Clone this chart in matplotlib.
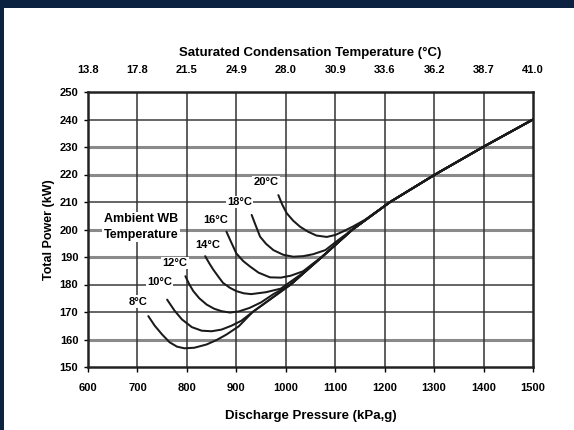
import numpy as np
import matplotlib
matplotlib.use("Agg")
import matplotlib.pyplot as plt
from matplotlib.patches import Rectangle

plt.rcParams['font.family'] = ['Liberation Sans', 'DejaVu Sans']
plt.rcParams['font.weight'] = 'bold'

# discharge pressure ticks and matching saturated condensation temperatures
pressure_ticks = [600, 700, 800, 900, 1000, 1100, 1200, 1300, 1400, 1500]
sat_temp_labels = ["13.8", "17.8", "21.5", "24.9", "28.0", "30.9", "33.6", "36.2", "38.7", "41.0"]
power_ticks = [150, 160, 170, 180, 190, 200, 210, 220, 230, 240, 250]

# common high-pressure line that all curves settle on
line_p = [933, 1010, 1073, 1135, 1211, 1302, 1399, 1500]
line_kw = [170, 180, 190, 200, 210, 220, 230, 240]

# head of each wet-bulb curve before it joins the common line
wb_labels = ["8°C", "10°C", "12°C", "14°C", "16°C", "18°C", "20°C"]
wb_p = [
    [722, 735, 750, 765, 780, 795, 815, 840, 860, 880, 905],
    [760, 775, 790, 810, 830, 850, 870, 890, 910],
    [797, 805, 813, 825, 840, 855, 870, 887, 905, 927, 950, 975],
    [837, 845, 853, 863, 873, 887, 900, 915, 930, 960, 990, 1030],
    [880, 888, 900, 914, 928, 945, 968, 990, 1010, 1035, 1055],
    [931, 938, 948, 960, 975, 995, 1015, 1035, 1055, 1080, 1105],
    [985, 993, 1002, 1015, 1029, 1045, 1062, 1083, 1100, 1116, 1135, 1160],
]
wb_kw = [
    [168.5, 165.0, 161.8, 159.0, 157.4, 156.8, 157.0, 158.2, 159.8, 161.8, 164.8],
    [174.5, 170.5, 167.3, 164.5, 163.2, 163.0, 163.6, 165.0, 166.8],
    [183.0, 180.0, 177.6, 175.0, 172.7, 171.2, 170.3, 169.8, 170.2, 171.5, 173.5, 176.5],
    [190.3, 187.8, 185.5, 183.0, 180.6, 178.8, 177.6, 176.8, 176.5, 177.2, 178.5, 183.6],
    [199.2, 196.0, 191.3, 188.5, 186.5, 184.3, 182.6, 182.5, 183.2, 184.8, 187.6],
    [205.3, 202.0, 197.4, 194.8, 192.5, 190.8, 190.1, 190.3, 191.0, 192.5, 196.0],
    [212.5, 209.0, 205.9, 203.2, 201.0, 199.2, 197.8, 197.3, 198.0, 199.3, 201.0, 203.5],
]
# where each label sits (pressure, power)
wb_label_pos = [(702, 173.8), (744, 181.0), (776, 187.9), (843, 194.3),
                (858, 203.5), (906, 210.1), (960, 217.4)]

fig = plt.figure(figsize=(5.74, 4.30), dpi=100)
fig.patch.set_facecolor('white')
# navy frame along the top and left edge
fig.patches.append(Rectangle((0, 1 - 8 / 430), 1, 8 / 430, transform=fig.transFigure,
                             facecolor='#0b2241', edgecolor='none', zorder=0))
fig.patches.append(Rectangle((0, 0), 4 / 574, 1, transform=fig.transFigure,
                             facecolor='#0b2241', edgecolor='none', zorder=0))

ax = fig.add_axes([88 / 574, 1 - 367 / 430, 445 / 574, 275 / 430])
ax.set_xlim(600, 1500)
ax.set_ylim(150, 250)

for y in power_ticks[1:-1]:
    heavy = y in (160, 190, 200, 220, 230)
    ax.axhline(y, color='#8a8a8a' if heavy else '#3a3a3a', lw=2.2 if heavy else 1.1, zorder=1)
for x in pressure_ticks[1:-1]:
    ax.axvline(x, color='#333333', lw=1.1, zorder=1)

for p, kw in zip(wb_p, wb_kw):
    # join the tail of the common line beyond the last head point
    tail = [i for i, v in enumerate(line_p) if v > p[-1]]
    xs = p + [line_p[i] for i in tail]
    ys = kw + [line_kw[i] for i in tail]
    ax.plot(xs, ys, color='#1a1a1a', lw=1.45, zorder=3, solid_capstyle='round')

for lab, (x, y) in zip(wb_labels, wb_label_pos):
    ax.text(x, y, lab, fontsize=8, fontweight='bold', ha='center', va='center', zorder=4,
            bbox=dict(facecolor='white', edgecolor='none', pad=0.8))

ax.text(707, 200.9, "Ambient WB\nTemperature", fontsize=9, fontweight='bold',
        ha='center', va='center', linespacing=1.4, zorder=4,
        bbox=dict(facecolor='white', edgecolor='none', pad=1.0))

for s in ax.spines.values():
    s.set_linewidth(1.8)
    s.set_color('#222222')

ax.set_xticks(pressure_ticks)
ax.set_xticklabels([str(v) for v in pressure_ticks])
ax.set_yticks(power_ticks)
ax.tick_params(axis='x', labelsize=8, length=3.5, width=1, direction='out', pad=8)
ax.tick_params(axis='y', labelsize=8, length=3, width=1, direction='out', pad=4)
ax.set_xlabel("Discharge Pressure (kPa,g)", fontsize=9.5, fontweight='bold', labelpad=12)
ax.set_ylabel("Total Power (kW)", fontsize=9, fontweight='bold', labelpad=3)

top = ax.twiny()
top.set_xlim(ax.get_xlim())
top.set_xticks(pressure_ticks)
top.set_xticklabels(sat_temp_labels)
top.tick_params(axis='x', labelsize=8, length=0, pad=12)
top.set_xlabel("Saturated Condensation Temperature (°C)", fontsize=9.5, fontweight='bold', labelpad=7)
for s in top.spines.values():
    s.set_visible(False)

fig.savefig("out.png", dpi=100, facecolor='white')
